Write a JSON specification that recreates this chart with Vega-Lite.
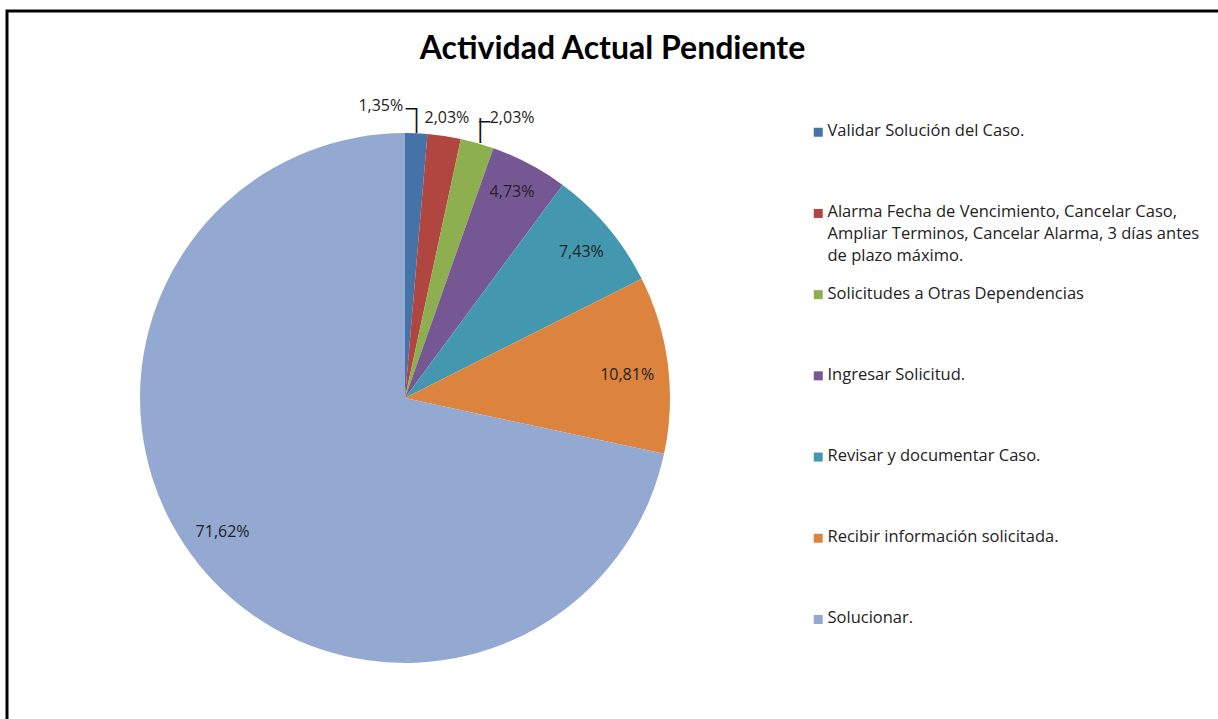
{
  "$schema": "https://vega.github.io/schema/vega-lite/v6.json",
  "width": 1211,
  "height": 708,
  "autosize": {"type": "none"},
  "padding": {"left": 7, "top": 11, "right": 0, "bottom": 0},
  "background": "white",
  "view": {"stroke": "#000", "strokeWidth": 3, "strokeDash": [1211, 1919, 708]},
  "title": {"text": "Actividad Actual Pendiente", "font": "Lato", "fontSize": 32, "fontWeight": "bold", "color": "#000", "anchor": "middle", "frame": "group", "offset": -55},
  "data": {"values": [
    {"orden": 1, "actividad": "Validar Solución del Caso.", "valor": 1.35, "etiqueta": "1,35%"},
    {"orden": 2, "actividad": "Alarma Fecha de Vencimiento,  Cancelar Caso,\nAmpliar Terminos, Cancelar Alarma, 3 días antes\nde plazo máximo.", "valor": 2.03, "etiqueta": "2,03%"},
    {"orden": 3, "actividad": "Solicitudes a Otras Dependencias", "valor": 2.03, "etiqueta": "2,03%"},
    {"orden": 4, "actividad": "Ingresar Solicitud.", "valor": 4.73, "etiqueta": "4,73%"},
    {"orden": 5, "actividad": "Revisar y documentar Caso.", "valor": 7.43, "etiqueta": "7,43%"},
    {"orden": 6, "actividad": "Recibir información solicitada.", "valor": 10.81, "etiqueta": "10,81%"},
    {"orden": 7, "actividad": "Solucionar.", "valor": 71.62, "etiqueta": "71,62%"}
  ]},
  "encoding": {
    "theta": {"field": "valor", "type": "quantitative", "stack": true},
    "order": {"field": "orden", "type": "quantitative"}
  },
  "layer": [
    {
      "mark": {"type": "arc", "outerRadius": 265, "x": 398, "y": 387},
      "encoding": {
        "color": {
          "field": "actividad", "type": "nominal",
          "scale": {
            "domain": [
              "Validar Solución del Caso.",
              "Alarma Fecha de Vencimiento,  Cancelar Caso,\nAmpliar Terminos, Cancelar Alarma, 3 días antes\nde plazo máximo.",
              "Solicitudes a Otras Dependencias",
              "Ingresar Solicitud.",
              "Revisar y documentar Caso.",
              "Recibir información solicitada.",
              "Solucionar."
            ],
            "range": ["#4572A7", "#B0463F", "#8DAF50", "#755893", "#4398AF", "#DC833E", "#94A9D2"]
          },
          "legend": {
            "title": null, "orient": "none", "legendX": 803, "legendY": 113,
            "symbolType": "square", "symbolSize": 81, "symbolStrokeWidth": 0, "symbolOpacity": 1,
            "labelFont": "Open Sans", "labelFontSize": 16.5, "labelColor": "#222", "labelLimit": 420, "labelOffset": 1,
            "rowPadding": 20.2, "gridAlign": "all", "padding": 0,
            "labelExpr": "split(datum.label, '\\n')", "labelBaseline": "top",
            "encode": {"labels": {"update": {"dy": {"value": -9}, "lineHeight": {"value": 22}}}}
          }
        }
      }
    },
    {
      "mark": {"type": "text", "radius": 228, "x": 398, "y": 387, "font": "Open Sans", "fontSize": 16, "color": "#222", "dy": -5},
      "encoding": {"text": {"condition": {"test": "datum.orden == 4", "field": "etiqueta"}, "value": ""}}
    },
    {
      "mark": {"type": "text", "radius": 228, "x": 398, "y": 387, "font": "Open Sans", "fontSize": 16, "color": "#222", "dx": 2, "dy": 1},
      "encoding": {"text": {"condition": {"test": "datum.orden == 5", "field": "etiqueta"}, "value": ""}}
    },
    {
      "mark": {"type": "text", "radius": 228, "x": 398, "y": 387, "font": "Open Sans", "fontSize": 16, "color": "#222", "dx": -4, "dy": 6},
      "encoding": {"text": {"condition": {"test": "datum.orden == 6", "field": "etiqueta"}, "value": ""}}
    },
    {
      "mark": {"type": "text", "radius": 228, "x": 398, "y": 387, "font": "Open Sans", "fontSize": 16, "color": "#222", "dx": -5, "dy": -9},
      "encoding": {"text": {"condition": {"test": "datum.orden == 7", "field": "etiqueta"}, "value": ""}}
    },
    {
      "mark": {"type": "text", "radius": 288, "x": 398, "y": 387, "font": "Open Sans", "fontSize": 16, "color": "#222", "align": "right", "dx": -14, "dy": -4},
      "encoding": {"text": {"condition": {"test": "datum.orden == 1", "field": "etiqueta"}, "value": ""}}
    },
    {
      "mark": {"type": "text", "radius": 283, "x": 398, "y": 387, "font": "Open Sans", "fontSize": 16, "color": "#222"},
      "encoding": {"text": {"condition": {"test": "datum.orden == 2", "field": "etiqueta"}, "value": ""}}
    },
    {
      "mark": {"type": "text", "radius": 285, "x": 398, "y": 387, "font": "Open Sans", "fontSize": 16, "color": "#222", "align": "left", "dx": 7, "dy": -6},
      "encoding": {"text": {"condition": {"test": "datum.orden == 3", "field": "etiqueta"}, "value": ""}}
    },
    {
      "mark": {"type": "text", "radius": 276, "x": 398, "y": 387, "font": "DejaVu Sans", "fontSize": 21, "color": "#111"},
      "encoding": {"text": {"condition": {"test": "datum.orden == 1 || datum.orden == 3", "value": "│"}, "value": ""}}
    },
    {
      "mark": {"type": "text", "radius": 288, "x": 398, "y": 387, "font": "DejaVu Sans", "fontSize": 18, "color": "#111", "dx": -6},
      "encoding": {"text": {"condition": {"test": "datum.orden == 1", "value": "─"}, "value": ""}}
    },
    {
      "mark": {"type": "text", "radius": 285, "x": 398, "y": 387, "font": "DejaVu Sans", "fontSize": 18, "color": "#111", "dx": 2, "dy": -1},
      "encoding": {"text": {"condition": {"test": "datum.orden == 3", "value": "─"}, "value": ""}}
    }
  ]
}
